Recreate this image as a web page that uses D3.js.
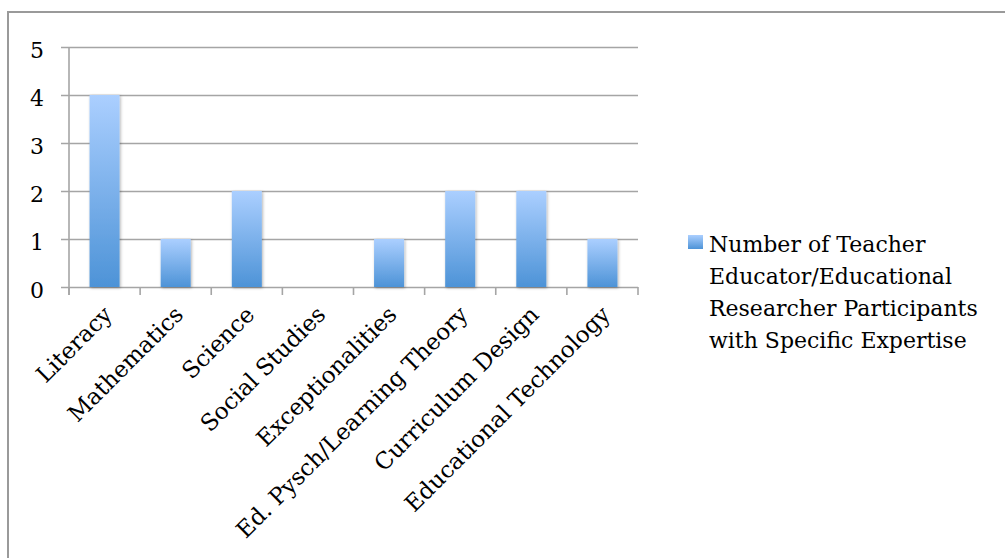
<!DOCTYPE html>
<html>
<head>
<meta charset="utf-8">
<script src="https://cdn.jsdelivr.net/npm/d3@7"></script>
<style>
  html, body { margin: 0; padding: 0; background: #fff; }
</style>
</head>
<body>
<svg id="chart" width="1005" height="558"></svg>
<script>
// Expertise areas and participant counts
const categories = [
  "Literacy", "Mathematics", "Science", "Social Studies",
  "Exceptionalities", "Ed. Pysch/Learning Theory",
  "Curriculum Design", "Educational Technology"
];
const values = [4, 1, 2, 0, 1, 2, 2, 1];
const yTicks = [0, 1, 2, 3, 4, 5];
const seriesName = [
  "Number of Teacher",
  "Educator/Educational",
  "Researcher Participants",
  "with Specific Expertise"
];

const svg = d3.select("#chart");
const fontFamily = "'DejaVu Serif', 'Liberation Serif', serif";
const fontSize = 22;
const gridColor = "#a5a5a5";

// Gradient fill + soft shadow for the bars
const defs = svg.append("defs");
const grad = defs.append("linearGradient")
  .attr("id", "barGrad").attr("x1", 0).attr("y1", 0).attr("x2", 0).attr("y2", 1);
grad.append("stop").attr("offset", "0%").attr("stop-color", "#abcfff");
grad.append("stop").attr("offset", "100%").attr("stop-color", "#4d93d7");

const shadow = defs.append("filter").attr("id", "barShadow")
  .attr("x", "-30%").attr("y", "-10%").attr("width", "160%").attr("height", "130%");
shadow.append("feDropShadow")
  .attr("dx", 1).attr("dy", 1).attr("stdDeviation", 1.6)
  .attr("flood-color", "#000").attr("flood-opacity", 0.3);

// Chart frame
svg.append("rect")
  .attr("x", 8).attr("y", 12).attr("width", 1020).attr("height", 580)
  .attr("fill", "none").attr("stroke", "#9a9a9a").attr("stroke-width", 2);

const plot = { left: 69, right: 638, top: 47, bottom: 287 };

const x = d3.scaleBand()
  .domain(categories)
  .range([plot.left, plot.right])
  .paddingInner(0.578)
  .paddingOuter(0.289);

const y = d3.scaleLinear()
  .domain([0, 5])
  .range([plot.bottom, plot.top]);

// Horizontal gridlines with outward ticks
const yAxis = d3.axisLeft(y)
  .tickValues(yTicks)
  .tickSize(-(plot.right - plot.left))
  .tickSizeOuter(0)
  .tickFormat("");
const gy = svg.append("g")
  .attr("transform", `translate(${plot.left},0)`)
  .call(yAxis);
gy.select(".domain").remove();
gy.selectAll(".tick line")
  .attr("x1", -8)
  .attr("stroke", gridColor).attr("stroke-width", 1.6);

// Y tick labels
svg.append("g").selectAll("text")
  .data(yTicks)
  .join("text")
  .attr("x", 44)
  .attr("y", d => y(d) + 11)
  .attr("text-anchor", "end")
  .attr("font-family", fontFamily)
  .attr("font-size", fontSize)
  .attr("fill", "#000")
  .text(d => d);

// Vertical axis line
svg.append("line")
  .attr("x1", plot.left).attr("x2", plot.left)
  .attr("y1", plot.top).attr("y2", plot.bottom + 8)
  .attr("stroke", gridColor).attr("stroke-width", 1.6);

// Category boundary ticks below the baseline
const step = x.step();
const boundaries = d3.range(categories.length + 1).map(i => plot.left + i * step);
svg.append("g").selectAll("line")
  .data(boundaries)
  .join("line")
  .attr("x1", d => d).attr("x2", d => d)
  .attr("y1", plot.bottom).attr("y2", plot.bottom + 8)
  .attr("stroke", gridColor).attr("stroke-width", 1.6);

// Bars
svg.append("g").selectAll("rect")
  .data(categories.map((c, i) => ({ c, v: values[i] })).filter(d => d.v > 0))
  .join("rect")
  .attr("x", d => x(d.c))
  .attr("y", d => y(d.v))
  .attr("width", x.bandwidth())
  .attr("height", d => y(0) - y(d.v))
  .attr("fill", "url(#barGrad)")
  .attr("filter", "url(#barShadow)");

// Rotated category labels
svg.append("g").selectAll("text")
  .data(categories)
  .join("text")
  .attr("font-family", fontFamily)
  .attr("font-size", 23)
  .attr("fill", "#000")
  .attr("text-anchor", "end")
  .attr("transform", d => {
    const cx = x(d) + x.bandwidth() / 2 + 9;
    const cy = plot.bottom + 29;
    return `translate(${cx},${cy}) rotate(-45)`;
  })
  .text(d => d);

// Legend
const legend = svg.append("g");
legend.append("rect")
  .attr("x", 688).attr("y", 235).attr("width", 15).attr("height", 14)
  .attr("fill", "url(#barGrad)");
legend.append("g").selectAll("text")
  .data(seriesName)
  .join("text")
  .attr("x", 709)
  .attr("y", (d, i) => 252 + i * 32)
  .attr("font-family", fontFamily)
  .attr("font-size", fontSize)
  .attr("fill", "#000")
  .text(d => d);
</script>
</body>
</html>
